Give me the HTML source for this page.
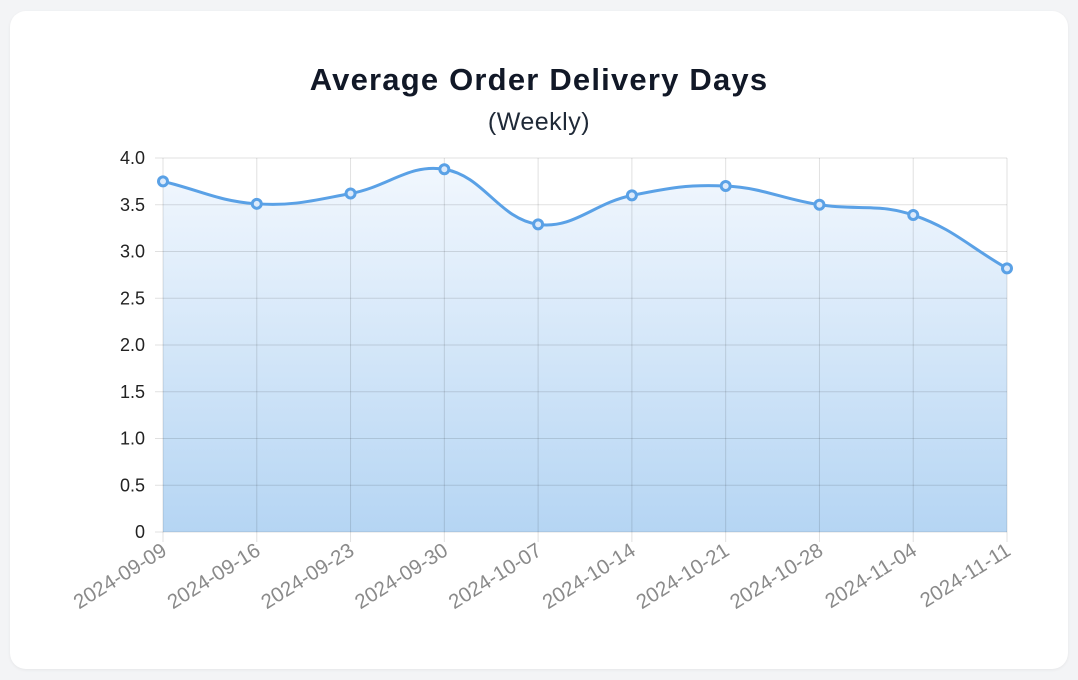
<!DOCTYPE html>
<html><head><meta charset="utf-8"><style>
html,body{margin:0;padding:0;background:#f3f4f6;width:1078px;height:680px;overflow:hidden}
.card{position:absolute;left:10px;top:11px;width:1058px;height:658px;background:#fff;border-radius:16px;box-shadow:0 1px 3px rgba(0,0,0,.06)}
svg{position:absolute;left:0;top:0}
</style></head><body>
<div class="card"></div>
<svg id="s" width="1078" height="680" xmlns="http://www.w3.org/2000/svg">
<defs><linearGradient id="g" x1="0" y1="158" x2="0" y2="532" gradientUnits="userSpaceOnUse">
<stop offset="0" stop-color="#f3f8fe"/><stop offset="1" stop-color="#b5d5f3"/></linearGradient></defs>
<text x="539" y="90" text-anchor="middle" font-family="Liberation Sans, sans-serif" font-weight="bold" font-size="31" letter-spacing="1.2" fill="#111827">Average Order Delivery Days</text>
<text x="539" y="130" text-anchor="middle" font-family="Liberation Sans, sans-serif" font-size="25" letter-spacing="0.5" fill="#1f2937">(Weekly)</text>
<g id="grid"></g>
<path id="area" fill="url(#g)"/>
<g id="grid2"></g>
<path id="line" fill="none" stroke="#5aa1e6" stroke-width="3"/>
<g id="pts"></g>
<g id="lbl" font-family="Liberation Sans, sans-serif"></g>
</svg>
<script>
var ns="http://www.w3.org/2000/svg";
var v=[3.75,3.51,3.62,3.88,3.29,3.60,3.70,3.50,3.39,2.82];
var d=["2024-09-09","2024-09-16","2024-09-23","2024-09-30","2024-10-07","2024-10-14","2024-10-21","2024-10-28","2024-11-04","2024-11-11"];
var x0=163,x1=1007,yT=158,yB=532;
function X(i){return x0+(x1-x0)*i/9}
function Y(a){return yB-(yB-yT)*a/4}
function el(t,a,p){var e=document.createElementNS(ns,t);for(var k in a)e.setAttribute(k,a[k]);(p||document.getElementById('grid')).appendChild(e);return e}
var L=document.getElementById('lbl'),G2=document.getElementById('grid2');
for(var k=0;k<=8;k++){var y=Y(k/2);el('line',{x1:155,x2:1007,y1:y,y2:y,stroke:'rgba(0,0,0,0.12)','stroke-width':1},G2);
var t=el('text',{x:145,y:y+6,'text-anchor':'end','font-size':18,fill:'#222'},L);t.textContent=k==0?'0':(k/2).toFixed(1);}
for(var i=0;i<10;i++){el('line',{x1:X(i),x2:X(i),y1:yT,y2:yB+10,stroke:'rgba(0,0,0,0.12)','stroke-width':1},G2);
var t=el('text',{x:0,y:0,'text-anchor':'end','font-size':20.5,fill:'#8a8a8a',transform:'translate('+(X(i)+5)+','+(yB+22)+') rotate(-32)'},L);t.textContent=d[i];}
var P=v.map(function(a,i){return [X(i),Y(a)]});
var cp=P.map(function(c,i){var p=P[i-1]||c,n=P[i+1]||c;var d01=Math.hypot(c[0]-p[0],c[1]-p[1]),d12=Math.hypot(n[0]-c[0],n[1]-c[1]);var s=d01+d12||1;var fa=0.4*d01/s,fb=0.4*d12/s;
return {p:[c[0]-fa*(n[0]-p[0]),c[1]-fa*(n[1]-p[1])],n:[c[0]+fb*(n[0]-p[0]),c[1]+fb*(n[1]-p[1])]}});
var path="M"+P[0][0]+","+P[0][1];
for(var i=1;i<10;i++){path+=" C"+cp[i-1].n[0]+","+cp[i-1].n[1]+" "+cp[i].p[0]+","+cp[i].p[1]+" "+P[i][0]+","+P[i][1];}
document.getElementById('line').setAttribute('d',path);
document.getElementById('area').setAttribute('d',path+" L"+x1+","+yB+" L"+x0+","+yB+" Z");
P.forEach(function(p){el('circle',{cx:p[0],cy:p[1],r:4.5,fill:'#dceafb',stroke:'#5aa1e6','stroke-width':3},document.getElementById('pts'))});
</script>
</body></html>
